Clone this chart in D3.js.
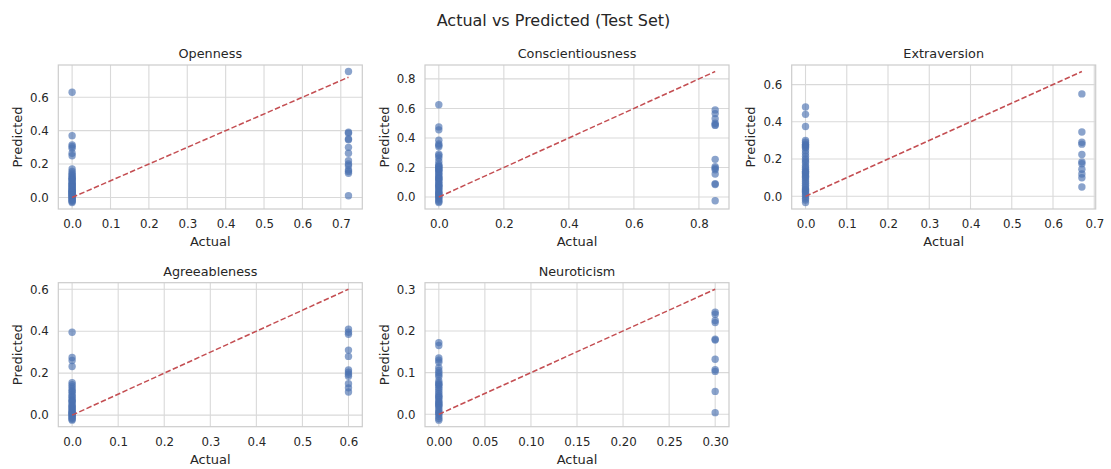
<!DOCTYPE html>
<html>
<head>
<meta charset="utf-8">
<script src="https://cdn.jsdelivr.net/npm/d3@7"></script>
<style>
  body { margin: 0; background: #fff; }
  text { font-family: "DejaVu Sans", sans-serif; fill: #262626; }
</style>
</head>
<body>
<div id="chart"></div>
<script>
// Data
var traits = ["Openness", "Conscientiousness", "Extraversion", "Agreeableness", "Neuroticism"];
var actualMax = [0.72, 0.85, 0.67, 0.6, 0.3];

// predictions where actual == 0
var predAtZero = [
    [0.63, 0.37, 0.315, 0.305, 0.295, 0.265, 0.25, 0.17, 0.155, 0.145, 0.135, 0.13, 0.12, 0.115, 0.11, 0.105, 0.1, 0.09, 0.085, 0.08, 0.075, 0.07, 0.065, 0.06, 0.055, 0.05, 0.045, 0.04, 0.038, 0.035, 0.03, 0.028, 0.025, 0.02, 0.015, 0.012, 0.01, 0.005, 0.0, -0.005, -0.01, -0.015, -0.02, -0.025, -0.03],
    [0.625, 0.475, 0.455, 0.385, 0.36, 0.35, 0.34, 0.29, 0.28, 0.265, 0.24, 0.22, 0.21, 0.205, 0.2, 0.19, 0.185, 0.18, 0.17, 0.16, 0.15, 0.14, 0.13, 0.125, 0.12, 0.11, 0.1, 0.09, 0.08, 0.075, 0.07, 0.06, 0.05, 0.04, 0.03, 0.025, 0.02, 0.01, 0.005, 0.0, -0.01, -0.02, -0.03, -0.037],
    [0.48, 0.44, 0.375, 0.3, 0.29, 0.28, 0.275, 0.27, 0.265, 0.26, 0.245, 0.23, 0.215, 0.2, 0.19, 0.18, 0.165, 0.155, 0.145, 0.135, 0.13, 0.125, 0.12, 0.11, 0.105, 0.1, 0.09, 0.08, 0.07, 0.06, 0.05, 0.04, 0.035, 0.03, 0.025, 0.02, 0.01, 0.0, -0.01, -0.02, -0.033],
    [0.395, 0.275, 0.26, 0.232, 0.155, 0.145, 0.135, 0.125, 0.115, 0.11, 0.1, 0.09, 0.085, 0.075, 0.07, 0.065, 0.06, 0.05, 0.045, 0.04, 0.035, 0.03, 0.025, 0.02, 0.015, 0.012, 0.01, 0.005, 0.002, 0.0, -0.005, -0.01, -0.015, -0.02, -0.024],
    [0.172, 0.165, 0.135, 0.13, 0.125, 0.112, 0.105, 0.1, 0.095, 0.09, 0.08, 0.075, 0.072, 0.07, 0.065, 0.06, 0.055, 0.05, 0.045, 0.042, 0.04, 0.035, 0.03, 0.028, 0.025, 0.022, 0.02, 0.015, 0.01, 0.005, 0.003, 0.0, -0.005, -0.01, -0.014]
];

// predictions where actual == max
var predAtMax = [
    [0.754, 0.39, 0.385, 0.35, 0.345, 0.3, 0.265, 0.22, 0.2, 0.19, 0.165, 0.155, 0.145, 0.01],
    [0.59, 0.565, 0.53, 0.5, 0.49, 0.485, 0.255, 0.205, 0.195, 0.185, 0.155, 0.09, 0.085, -0.025],
    [0.55, 0.345, 0.29, 0.28, 0.225, 0.185, 0.175, 0.145, 0.12, 0.1, 0.05],
    [0.41, 0.395, 0.385, 0.31, 0.28, 0.215, 0.205, 0.195, 0.185, 0.15, 0.13, 0.11],
    [0.245, 0.24, 0.225, 0.22, 0.18, 0.178, 0.132, 0.107, 0.103, 0.055, 0.004]
];

var xTicks = [
    [0, 0.1, 0.2, 0.3, 0.4, 0.5, 0.6, 0.7],
    [0, 0.2, 0.4, 0.6, 0.8],
    [0, 0.1, 0.2, 0.3, 0.4, 0.5, 0.6, 0.7],
    [0, 0.1, 0.2, 0.3, 0.4, 0.5, 0.6],
    [0, 0.05, 0.1, 0.15, 0.2, 0.25, 0.3]
];
var yTicks = [
    [0, 0.2, 0.4, 0.6],
    [0, 0.2, 0.4, 0.6, 0.8],
    [0, 0.2, 0.4, 0.6],
    [0, 0.2, 0.4, 0.6],
    [0, 0.1, 0.2, 0.3]
];
var xFormats = [".1f", ".1f", ".1f", ".1f", ".2f"];

var svgWidth = 1111;
var svgHeight = 469;

var colLeft = [58.3, 425, 791.7];
var rowTop = [65, 282.7];
var width = 304;
var height = 144;

var svg = d3.select("#chart")
    .append("svg")
    .attr("width", svgWidth)
    .attr("height", svgHeight);

svg.append("text")
    .attr("x", 553.5)
    .attr("y", 25.5)
    .attr("text-anchor", "middle")
    .style("font-size", "16px")
    .text("Actual vs Predicted (Test Set)");

// matplotlib-like autoscale with 5% margins
function padded(lo, hi) {
    var m = (hi - lo) * 0.05;
    return [lo - m, hi + m];
}

traits.forEach(function(name, i) {
    var left = colLeft[i % 3];
    var top = rowTop[Math.floor(i / 3)];

    var g = svg.append("g")
        .attr("transform", `translate(${left}, ${top})`);

    var allPred = predAtZero[i].concat(predAtMax[i]);
    var yLo = Math.min(0, d3.min(allPred));
    var yHi = Math.max(actualMax[i], d3.max(allPred));

    var xScale = d3.scaleLinear()
        .domain(padded(0, actualMax[i]))
        .range([0, width]);
    var yScale = d3.scaleLinear()
        .domain(padded(yLo, yHi))
        .range([height, 0]);

    // grid
    g.append("g")
        .selectAll("line")
        .data(xTicks[i])
        .enter()
        .append("line")
        .attr("x1", d => xScale(d))
        .attr("x2", d => xScale(d))
        .attr("y1", 0)
        .attr("y2", height)
        .attr("stroke", "#d9d9d9")
        .attr("stroke-width", 1.1);
    g.append("g")
        .selectAll("line")
        .data(yTicks[i])
        .enter()
        .append("line")
        .attr("x1", 0)
        .attr("x2", width)
        .attr("y1", d => yScale(d))
        .attr("y2", d => yScale(d))
        .attr("stroke", "#d9d9d9")
        .attr("stroke-width", 1.1);

    // axes (labels only, no tick marks)
    var bottomAxis = d3.axisBottom(xScale)
        .tickValues(xTicks[i])
        .tickFormat(d3.format(xFormats[i]))
        .tickSize(0)
        .tickPadding(10.5);
    var leftAxis = d3.axisLeft(yScale)
        .tickValues(yTicks[i])
        .tickFormat(d3.format(".1f"))
        .tickSize(0)
        .tickPadding(9.5);

    var xa = g.append("g")
        .attr("transform", `translate(0, ${height})`)
        .call(bottomAxis);
    var ya = g.append("g")
        .call(leftAxis);
    [xa, ya].forEach(function(a) {
        a.select(".domain").remove();
        a.selectAll("text")
            .style("font-size", "11.8px")
            .style("font-family", "DejaVu Sans")
            .attr("fill", "#262626");
    });

    // frame
    g.append("rect")
        .attr("width", width)
        .attr("height", height)
        .attr("fill", "none")
        .attr("stroke", "#cccccc")
        .attr("stroke-width", 1.2);

    // points
    g.append("g")
        .selectAll("circle")
        .data(predAtZero[i].map(p => [0, p]).concat(predAtMax[i].map(p => [actualMax[i], p])))
        .enter()
        .append("circle")
        .attr("cx", d => xScale(d[0]))
        .attr("cy", d => yScale(d[1]))
        .attr("r", 3.7)
        .attr("fill", "#4c72b0")
        .attr("fill-opacity", 0.65);

    // identity line
    g.append("line")
        .attr("x1", xScale(0))
        .attr("y1", yScale(0))
        .attr("x2", xScale(actualMax[i]))
        .attr("y2", yScale(actualMax[i]))
        .attr("stroke", "#c44e52")
        .attr("stroke-width", 1.5)
        .attr("stroke-dasharray", "5.5,2.4");

    // labels
    g.append("text")
        .attr("x", width / 2)
        .attr("y", -7)
        .attr("text-anchor", "middle")
        .style("font-size", "12.8px")
        .text(name);

    g.append("text")
        .attr("x", width / 2)
        .attr("y", height + 37)
        .attr("text-anchor", "middle")
        .style("font-size", "13px")
        .text("Actual");

    g.append("text")
        .attr("transform", "rotate(-90)")
        .attr("x", -height / 2)
        .attr("y", -36.5)
        .attr("text-anchor", "middle")
        .style("font-size", "13px")
        .text("Predicted");
});
</script>
</body>
</html>
